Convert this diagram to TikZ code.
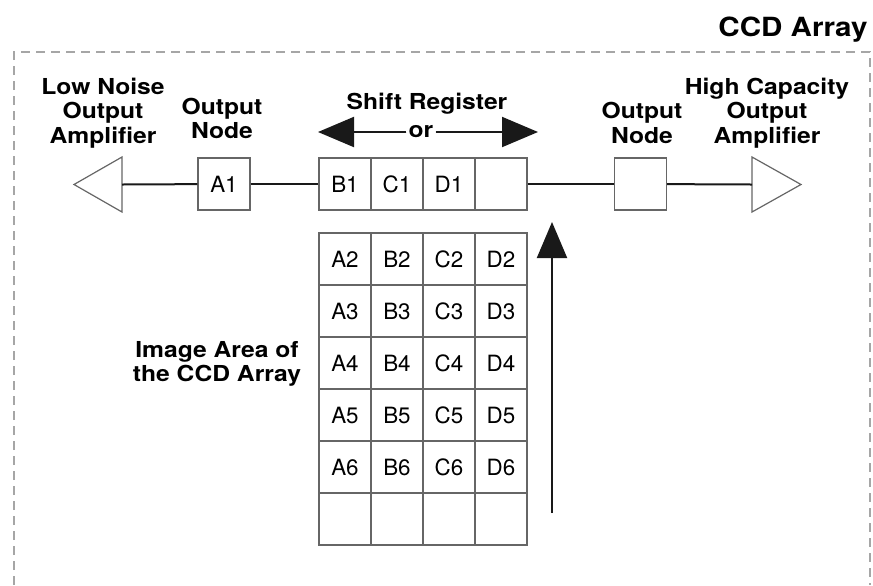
\documentclass[tikz,border=0pt]{standalone}
\usepackage{fontspec}
\setmainfont{TeX Gyre Heros}
\newfontfamily\lblfont[FakeStretch=1.12]{TeX Gyre Heros}
\usepackage{xcolor}
\usetikzlibrary{arrows.meta}

\begin{document}
\begin{tikzpicture}[x=0.5pt, y=-0.5pt,
		wire/.style={line width=1pt, draw=black!90},
		bigarrow/.style={line width=1pt, draw=black!90, fill=black!90, -{Triangle[width=15pt, length=18pt]}},
		amp/.style={draw=black!60, line width=0.6pt, fill=white},
		cell/.style={draw=black!60, line width=0.6pt, minimum size=26pt, inner sep=0pt, font=\fontsize{11.2}{13}\selectfont},
		lbl/.style={align=center, font=\lblfont\bfseries\fontsize{11}{12.3}\selectfont}]
			\useasboundingbox (0,0) rectangle (873,585);
			\draw[black!35, line width=0.75pt, dash pattern=on 4.5pt off 3pt] (14,585) -- (14,52) -- (870,52) -- (870,585);
			\node[lbl, font=\lblfont\bfseries\fontsize{13.2}{15}\selectfont, anchor=base east, inner sep=0pt] (title) at (868,36) {CCD Array};
			
			\draw[amp] (122,157) -- (122,212) -- (74,184.5) -- cycle;
			\coordinate (lnain) at (122,184.5);
			\draw[amp] (752,157) -- (752,212) -- (801,184.5) -- cycle;
			\coordinate (hcain) at (752,184.5);
			
			\node[cell] (A1) at (224,184) {A1};
			\node[cell] (outB) at (640.5,184) {};
			\foreach \t [count=\i] in {B1,C1,D1,{}}
				\node[cell] (sr\i) at ({293+52*\i},184) {\t};
			
			\foreach \col [count=\i] in {A,B,C,D} {
				\foreach \row in {2,...,6}
					\node[cell] (\col\row) at ({293+52*\i}, {155+52*\row}) {\col\row};
				\node[cell] (\col7) at ({293+52*\i}, 519) {};
			}
			
			\draw[wire] (lnain) -- (A1);
			\draw[wire] (A1) -- (sr1);
			\draw[wire] (sr4) -- (outB);
			\draw[wire] (outB) -- (hcain);
			
			\node[lbl, inner sep=1pt] (or) at (421,132) {or};
			\coordinate (srleft) at (318,132);
			\coordinate (srright) at (538,132);
			\draw[bigarrow] (or) -- (srleft);
			\draw[bigarrow] (or) -- (srright);
			\coordinate (shiftfoot) at (552,513);
			\coordinate (shifttip) at (552,222);
			\draw[bigarrow] (shiftfoot) -- (shifttip);
			
			\node[lbl] (lnaLabel) at (103,113) {Low Noise\\Output\\Amplifier};
			\node[lbl] (outALabel) at (222,118.5) {Output\\Node};
			\node[lbl, anchor=base] (srLabel) at (427,109) {Shift Register};
			\node[lbl] (outBLabel) at (642,123) {Output\\Node};
			\node[lbl] (hcaLabel) at (767,113) {High Capacity\\Output\\Amplifier};
			\node[lbl] (imgLabel) at (217,364) {Image Area of\\the CCD Array};
		\end{tikzpicture}
\end{document}
